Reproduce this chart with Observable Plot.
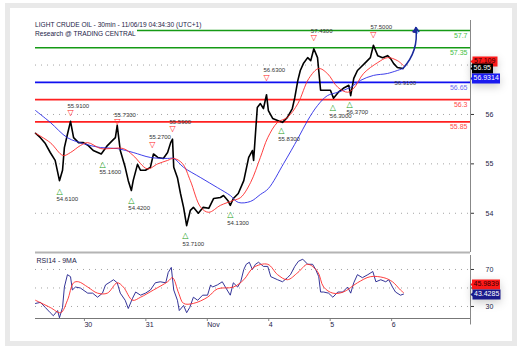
<!DOCTYPE html>
<html><head><meta charset="utf-8">
<script src="https://cdn.jsdelivr.net/npm/d3@7"></script>
<script src="https://cdn.jsdelivr.net/npm/@observablehq/plot@0.6"></script>
<style>
body{margin:0;background:#fff;font-family:"Liberation Sans",Arial,sans-serif}
#wrap{position:relative;width:522px;height:354px;overflow:hidden}
#frame{position:absolute;left:5px;top:3px;width:512px;height:343px;border:5px solid #e9e9e9;box-sizing:border-box}
#price,#rsi{position:absolute;left:0}
#price{top:0}
#rsi{top:254px}
#title{position:absolute;left:35px;top:20px;font-size:6.6px;line-height:9px;color:#1c1c48}
#title span{display:block;width:fit-content;background:#fff;padding-right:1px}
</style></head><body>
<div id="wrap"><div id="frame"></div><div id="price"></div><div id="rsi"></div>
<div id="title"><span>LIGHT CRUDE OIL - 30min - 11/06/19 04:34:30 (UTC+1)</span><span>Research @ TRADING CENTRAL</span></div></div>
<script>
// x positions are in trading-session days: 0 = start of Oct 30 session
const dayTicks = [0, 1, 2, 3, 4, 5];
const dayLabels = ["30", "31", "Nov", "4", "5", "6"];
const priceTicks = [54, 55, 56, 57];
const priceLabelTicks = [54, 55, 56];   // 57 is hidden behind the value boxes
const rsiTicks = [30, 50, 70];
const rsiLabelTicks = [30, 70];         // 50 is hidden behind the value boxes

const priceX = [-0.78,-0.70,-0.62,-0.54,-0.46,-0.39,-0.34,-0.31,-0.26,-0.21,-0.16,-0.08,0.00,0.08,0.16,0.29,0.39,0.47,0.52,0.55,0.60,0.68,0.73,0.78,0.81,0.88,0.93,1.01,1.09,1.14,1.21,1.30,1.37,1.42,1.45,1.47,1.53,1.58,1.63,1.68,1.74,1.79,1.87,1.95,2.04,2.12,2.23,2.28,2.35,2.39,2.44,2.52,2.61,2.69,2.75,2.77,2.80,2.83,2.88,2.93,2.98,3.01,3.08,3.16,3.24,3.32,3.40,3.44,3.49,3.53,3.58,3.65,3.70,3.75,3.81,3.83,3.86,3.94,4.02,4.07,4.15,4.23,4.32,4.35,4.40,4.46,4.51,4.59,4.67,4.72,4.79,4.87,4.95,5.00,5.05,5.11,5.20];
const priceClose = [55.62,55.53,55.41,55.23,55.07,54.66,54.87,55.33,55.60,55.86,55.53,55.43,55.43,55.37,55.27,55.20,55.37,55.47,55.53,55.78,55.27,54.93,54.66,54.46,54.66,54.99,54.87,54.87,54.93,55.20,55.13,55.11,55.23,55.43,55.50,54.93,54.72,54.40,54.12,53.75,54.06,54.12,54.00,54.12,54.10,54.30,54.32,54.36,54.26,54.16,54.30,54.40,54.66,55.13,55.27,55.07,55.61,56.14,56.22,56.12,56.40,56.08,55.92,55.88,55.84,55.94,56.12,56.34,56.69,56.89,57.03,57.15,57.09,57.33,57.15,56.89,56.49,56.49,56.49,56.33,56.45,56.53,56.59,56.38,56.73,56.89,56.95,57.05,57.15,57.40,57.19,57.15,57.19,57.13,57.03,56.95,56.93];

const redMaX = [-0.78,-0.54,-0.33,-0.21,-0.05,0.07,0.28,0.44,0.65,0.81,1.04,1.21,1.37,1.47,1.61,1.74,1.91,2.04,2.23,2.44,2.56,2.72,2.88,3.00,3.16,3.32,3.49,3.67,3.83,3.97,4.14,4.30,4.40,4.56,4.79,4.95,5.11,5.21];
const redMaV = [55.62,55.43,55.17,55.23,55.37,55.43,55.31,55.31,55.31,55.17,54.90,55.00,55.07,55.11,55.01,54.66,54.12,54.02,54.16,54.26,54.32,54.62,55.13,55.53,55.84,55.94,56.22,56.73,56.93,56.83,56.55,56.45,56.53,56.83,57.05,57.15,57.09,56.99];

const blueMaX = [-0.78,-0.54,-0.26,0.00,0.28,0.55,0.81,1.09,1.37,1.47,1.63,1.91,2.18,2.39,2.52,2.72,2.88,3.01,3.26,3.49,3.65,3.81,3.97,4.14,4.35,4.51,4.72,4.95,5.20];
const blueMaV = [56.08,55.84,55.53,55.41,55.33,55.31,55.23,55.13,55.11,55.11,54.93,54.72,54.52,54.36,54.22,54.24,54.38,54.50,55.01,55.51,55.88,56.18,56.38,56.45,56.55,56.69,56.79,56.83,56.93];

const levelValues = [57.7, 57.35, 56.65, 56.3, 55.85];
const levelLabels = ["57.7", "57.35", "56.65", "56.3", "55.85"];
const levelKinds = ["resistance", "resistance", "pivot", "support", "support"];

const highX = [-0.21, 0.55, 1.12, 1.45, 2.98, 3.75, 4.72];
const highV = [55.91, 55.73, 55.27, 55.59, 56.63, 57.43, 57.50];
const lowX = [-0.39, 0.31, 0.78, 1.66, 2.39, 3.22, 4.06, 4.33];
const lowV = [54.61, 55.16, 54.42, 53.71, 54.13, 55.83, 56.30, 56.37];
const lastLowX = [5.11];
const lastLowV = [56.91];

const arrowFrom = [5.20, 56.93];
const arrowTo = [5.41, 57.76];

const lastValues = [57.109, 56.95, 56.9314];
const lastLabels = ["57.109", "56.95", "56.9314"];

const rsiX = [-0.78,-0.70,-0.62,-0.54,-0.49,-0.42,-0.39,-0.34,-0.31,-0.26,-0.21,-0.18,-0.13,-0.05,0.07,0.15,0.23,0.31,0.36,0.44,0.49,0.55,0.60,0.68,0.73,0.80,0.85,0.93,1.01,1.09,1.17,1.25,1.34,1.38,1.43,1.47,1.53,1.56,1.63,1.68,1.73,1.79,1.86,1.94,2.02,2.07,2.10,2.18,2.26,2.31,2.39,2.44,2.51,2.56,2.61,2.65,2.70,2.75,2.80,2.85,2.93,3.00,3.05,3.16,3.24,3.32,3.37,3.44,3.50,3.57,3.65,3.73,3.78,3.83,3.86,3.91,3.99,4.06,4.14,4.22,4.30,4.35,4.40,4.46,4.54,4.63,4.71,4.76,4.84,4.92,4.97,5.03,5.08,5.16,5.21];
const rsiV = [33.3,34.4,28.9,23.3,20.0,25.6,17.8,28.9,51.0,64.4,62.2,47.8,51.0,50.0,44.4,44.4,40.0,44.4,53.3,56.7,58.9,55.6,44.4,36.7,27.8,38.9,45.6,42.2,44.4,47.8,55.6,56.7,55.6,66.7,72.2,47.8,36.7,25.6,31.1,23.3,28.9,40.0,36.7,42.2,42.2,53.3,51.0,53.3,56.7,51.0,42.2,55.6,51.0,56.7,70.0,75.6,77.8,70.0,75.6,77.8,73.3,73.3,62.2,58.9,56.7,61.1,64.4,73.3,78.9,81.1,75.6,75.6,70.0,62.2,45.6,45.6,44.4,40.0,45.6,45.6,51.0,44.4,55.6,64.4,61.1,64.4,67.8,56.7,58.9,56.7,58.9,51.0,45.6,42.2,43.4];
const rsiMaX = [-0.78,-0.54,-0.37,-0.26,-0.16,-0.08,0.07,0.23,0.39,0.55,0.65,0.80,0.93,1.14,1.37,1.45,1.55,1.63,1.79,2.02,2.18,2.44,2.61,2.77,3.00,3.16,3.32,3.49,3.65,3.81,3.91,4.06,4.23,4.46,4.67,4.89,5.03,5.16,5.21];
const rsiMaV = [36.7,28.9,23.3,36.7,55.6,56.7,51.0,44.4,44.4,55.6,51.0,36.7,40.0,47.8,56.7,61.1,44.4,33.3,33.3,40.0,49.0,51.0,58.9,72.2,75.6,64.4,58.9,66.7,75.6,67.8,51.0,44.4,45.6,55.6,62.2,61.1,56.7,47.8,45.0];
const rsiLastValues = [45.9839, 43.4285];
const rsiLastLabels = ["45.9839", "43.4285"];

// ---- build tables ----
const zip = (xs, ys) => xs.map((x, i) => ({x, y: ys[i]}));
const price = zip(priceX, priceClose);
const redMa = zip(redMaX, redMaV);
const blueMa = zip(blueMaX, blueMaV);
const levelColor = {resistance: "#159a15", pivot: "#1010f0", support: "#ff2020"};
const levelText = {resistance: "#44c044", pivot: "#6a6af0", support: "#ff4a4a"};
const levels = levelValues.map((v, i) => ({v, label: levelLabels[i], kind: levelKinds[i]}));
const highs = highX.map((x, i) => ({x, v: highV[i], label: highV[i].toFixed(4)}));
const lows = lowX.map((x, i) => ({x, v: lowV[i], label: lowV[i].toFixed(4)}));
const lastLow = lastLowX.map((x, i) => ({x, v: lastLowV[i], label: lastLowV[i].toFixed(4)}));
const rsi = zip(rsiX, rsiV);
const rsiMa = zip(rsiMaX, rsiMaV);
const boxes = lastValues.map((v, i) => ({v, label: lastLabels[i]}));
const rsiBoxes = rsiLastValues.map((v, i) => ({v, label: rsiLastLabels[i]}));

const X0 = -0.78, X1 = 6.30, TICK = 0.065;
const font = "Liberation Sans, Arial, sans-serif";

const pricePlot = Plot.plot({
  width: 522, height: 254,
  marginLeft: 35, marginRight: 52, marginTop: 20, marginBottom: 2,
  style: {fontFamily: font, fontSize: "7px", color: "#1c1c48", background: "transparent", overflow: "visible"},
  x: {domain: [X0, X1], axis: null},
  y: {domain: [53.206, 57.902], axis: null},
  marks: [
    Plot.gridY(priceTicks, {stroke: "#999", strokeOpacity: 0.9, strokeDasharray: "1,5"}),
    Plot.ruleY(priceTicks, {x1: X1, x2: X1 + TICK, stroke: "#333"}),
    Plot.axisY(priceLabelTicks, {anchor: "right", tickSize: 0, tickPadding: 15, label: null, fontSize: 7, fill: "#1c1c48"}),
    Plot.ruleY(levels, {y: "v", stroke: d => levelColor[d.kind], strokeWidth: 1.7}),
    Plot.text(levels, {x: X1, y: "v", text: "label", textAnchor: "end", dx: -3, dy: 5, fill: d => levelText[d.kind], fontSize: 7}),
    Plot.line(price, {x: "x", y: "y", stroke: "#000", strokeWidth: 1.6, curve: "linear"}),
    Plot.line(blueMa, {x: "x", y: "y", stroke: "#2a2ae6", strokeWidth: 0.9, curve: "catmull-rom"}),
    Plot.line(redMa, {x: "x", y: "y", stroke: "#ff2a2a", strokeWidth: 0.9, curve: "catmull-rom"}),
    Plot.text(highs, {x: "x", y: "v", text: () => "▽", fill: "#ff2020", fontSize: 8, dy: -6, fontFamily: "DejaVu Sans"}),
    Plot.text(highs, {x: "x", y: "v", text: "label", fill: "#333", fontSize: 6, textAnchor: "start", dx: -3, dy: -13}),
    Plot.text(lows, {x: "x", y: "v", text: () => "△", fill: "#17a017", fontSize: 8, dy: 8, fontFamily: "DejaVu Sans"}),
    Plot.text(lows, {x: "x", y: "v", text: "label", fill: "#333", fontSize: 6, textAnchor: "start", dx: -3, dy: 16}),
    Plot.text(lastLow, {x: "x", y: "v", text: "label", fill: "#333", fontSize: 6, textAnchor: "start", dx: -3, dy: 14}),
    Plot.arrow([{x1: arrowFrom[0], y1: arrowFrom[1], x2: arrowTo[0], y2: arrowTo[1]}], {x1: "x1", y1: "y1", x2: "x2", y2: "y2", bend: -25, stroke: "#1a2a9c", strokeWidth: 1.5, headLength: 5}),
    Plot.text([{x: arrowTo[0], y: arrowTo[1]}], {x: "x", y: "y", text: () => "▲", rotate: 18, fill: "#1a2a9c", fontSize: 8, fontFamily: "DejaVu Sans", dy: 2}),
    Plot.ruleX([X1], {stroke: "#888", strokeWidth: 1}),
    Plot.ruleY([53.206], {stroke: "#b4b4b4", strokeWidth: 2}),
    Plot.tip(boxes.slice(0, 1), {x: X1, y: "v", title: "label", anchor: "left", fill: "#ff1a1a", stroke: "none", pointerSize: 4, textPadding: 1.5, fontSize: 7, dy: 2}),
    Plot.tip(boxes.slice(1, 2), {x: X1, y: "v", title: "label", anchor: "left", fill: "#000", stroke: "none", pointerSize: 3, textPadding: 1.5, fontSize: 7, dy: 1}),
    Plot.tip(boxes.slice(2, 3), {x: X1, y: "v", title: "label", anchor: "left", fill: "#1a1af0", stroke: "none", pointerSize: 3, textPadding: 1.5, fontSize: 7, dy: 10})
  ]
});

const rsiPlot = Plot.plot({
  width: 522, height: 80,
  marginLeft: 35, marginRight: 52, marginTop: 1, marginBottom: 16,
  style: {fontFamily: font, fontSize: "7px", color: "#1c1c48", background: "transparent", overflow: "visible"},
  x: {domain: [X0, X1], label: null},
  y: {domain: [17.0, 85.1], axis: null},
  marks: [
    Plot.gridY(rsiTicks, {stroke: "#999", strokeOpacity: 0.9, strokeDasharray: "1,5"}),
    Plot.ruleY(rsiTicks, {x1: X1, x2: X1 + TICK, stroke: "#333"}),
    Plot.axisY(rsiLabelTicks, {anchor: "right", tickSize: 0, tickPadding: 15, label: null, fontSize: 7, fill: "#1c1c48"}),
    Plot.axisX({ticks: dayTicks, tickFormat: (d, i) => dayLabels[i], tickSize: 3, tickPadding: 1, textAnchor: "start", dx: 1, stroke: "#888", fill: "#1c1c48", fontSize: 7}),
    Plot.line(rsi, {x: "x", y: "y", stroke: "#1e1e8c", strokeWidth: 0.9}),
    Plot.line(rsiMa, {x: "x", y: "y", stroke: "#ff2a2a", strokeWidth: 0.9, curve: "catmull-rom"}),
    Plot.text(["RSI14 - 9MA"], {frameAnchor: "top-left", dx: 1, dy: 3, fill: "#1c1c48", fontSize: 7}),
    Plot.ruleY([17.0], {stroke: "#777", strokeWidth: 1}),
    Plot.ruleX([X1], {y1: 10, y2: 85.1, stroke: "#888", strokeWidth: 1}),
    Plot.tip(rsiBoxes.slice(0, 1), {x: X1, y: "v", title: "label", anchor: "left", fill: "#ff1a1a", stroke: "none", pointerSize: 3, textPadding: 1.5, fontSize: 7, dy: -7}),
    Plot.tip(rsiBoxes.slice(1, 2), {x: X1, y: "v", title: "label", anchor: "left", fill: "#1a1a8c", stroke: "none", pointerSize: 4, textPadding: 1.5, fontSize: 7, dy: 0})
  ]
});

document.getElementById("price").append(pricePlot);
document.getElementById("rsi").append(rsiPlot);

// text colours inside the value boxes
function colourTips(svg, colours) {
  svg.querySelectorAll('g[aria-label="tip"]').forEach((g, i) => {
    g.querySelectorAll("text, tspan").forEach(t => { t.style.fill = colours[i]; });
  });
}
colourTips(pricePlot, ["#300", "#fff", "#fff"]);
colourTips(rsiPlot, ["#300", "#fff"]);
</script>
</body></html>
